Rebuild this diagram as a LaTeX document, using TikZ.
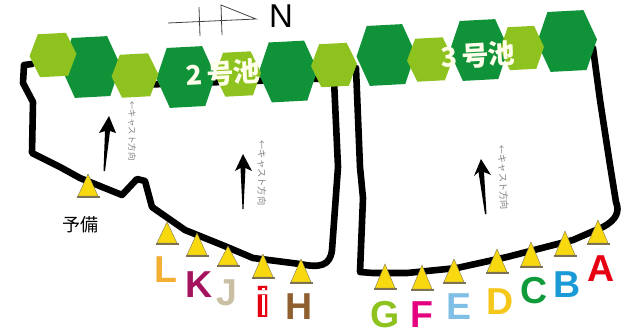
\documentclass[tikz,border=0pt]{standalone}
\usepackage{fontspec}
\setmainfont{Liberation Sans}
\newfontfamily\cjkfont{Noto Sans CJK JP}
\definecolor{hexdark}{HTML}{0F9238}
\definecolor{hexlight}{HTML}{8DC21F}
\definecolor{conefill}{HTML}{F8D90F}
\definecolor{conebase}{HTML}{7D7352}
\tikzset{
  x=1pt,y=-1pt,
  track/.style={draw=black,line width=6.6pt,line join=round,line cap=round},
  compass/.style={draw=black!75,line width=0.8pt},
  bigletter/.style={anchor=base,inner sep=0pt,font=\fontsize{37.5}{37.5}\selectfont\bfseries},
  pondname/.style={inner sep=0pt,text=white!92!yellow,font=\cjkfont\fontsize{27}{27}\selectfont\bfseries,rotate=3},
  casttext/.style={inner sep=0pt,text=black!50,font=\cjkfont\fontsize{8.5}{8.5}\selectfont},
  casttextwide/.style={casttext,font=\cjkfont\fontsize{9.3}{9.3}\selectfont},
}
\newcommand{\hexa}[5]{% cx cy w h colour
  \fill[#5,shift={(#1,#2)},rotate=3]
    (-#3/2,0) -- (-#3*0.3,-#4/2) -- (#3*0.3,-#4/2) -- (#3/2,0) -- (#3*0.3,#4/2) -- (-#3*0.3,#4/2) -- cycle;}
\newcommand{\cone}[3]{% cx apex base
  \fill[conefill,draw=conebase,line width=0.4pt] (#1,#2) -- (#1+10,#3-1) -- (#1-10,#3-1) -- cycle;
  \fill[conebase] (#1-11.5,#3-1.5) rectangle (#1+11.5,#3+1);}
\begin{document}
\begin{tikzpicture}
\useasboundingbox (0,0) rectangle (625,333);
% tracks
\draw[track] (32,64) -- (24,65) -- (23,83) -- (33,102) -- (32,153) -- (60,167) -- (80,178) -- (122,195)
  -- (137,179) -- (145,181) -- (152,207) -- (185,230) -- (227,247) -- (253,258) -- (300,264)
  .. controls (320,268) and (330,266) .. (332,250) -- (338,167) -- (334,80);
\draw[track] (135,85) -- (340,78);
\draw[track] (356,68) -- (360,167) -- (363,198) -- (360,272) -- (373,273) -- (407,273) -- (457,268)
  -- (507,257) -- (573,240) -- (603,227) .. controls (616,220) and (620,212) .. (616,202) -- (610,165) -- (600,100) -- (593,48);
% hexagons
\hexa{91}{67}{59}{60}{hexdark}
\hexa{186}{77}{59}{60}{hexdark}
\hexa{288}{71.5}{59}{60}{hexdark}
\hexa{386}{55}{59}{60}{hexdark}
\hexa{479}{50}{59}{60}{hexdark}
\hexa{567}{41}{60}{60}{hexdark}
\hexa{53}{55}{47}{43}{hexlight}
\hexa{135}{75.5}{47}{43}{hexlight}
\hexa{238}{74}{46}{44}{hexlight}
\hexa{334}{65}{46}{43}{hexlight}
\hexa{430}{59.5}{46}{43}{hexlight}
\hexa{522}{48}{44}{43}{hexlight}
% pond names
\node[pondname] (pondtwo) at (223,73) {2\,号池};
\node[pondname] (pondthree) at (478,55) {3\,号池};
% compass
\draw[compass] (168,23) -- (256,19) -- (221,5) -- (222,35);
\draw[compass] (199,7) -- (200,36);
\node[anchor=base,inner sep=0pt,font=\fontsize{33}{33}\selectfont] (north) at (281,27) {N};
% flow arrows
\fill[black] (109,116) -- (116,133) -- (110,131) -- (105,171) -- (103.5,171) -- (105,131) -- (99,133) -- cycle;
\fill[black] (243,154) -- (252,171) -- (245.5,168) -- (243.5,209) -- (242.5,209) -- (240.5,168) -- (235,171) -- cycle;
\fill[black] (481,159) -- (491,175) -- (484,172) -- (486.5,214) -- (485,214) -- (478.5,172) -- (474,176) -- cycle;
% cast direction notes
\node[casttext,rotate=-90] (castone) at (132,131) {←キャスト方向};
\node[casttextwide,rotate=-90] (casttwo) at (262,173) {←キャスト方向};
\node[casttextwide,rotate=-87] (castthree) at (503,177.5) {←キャスト方向};
% cones
\cone{88}{174}{197}
\cone{167}{222}{244}
\cone{197}{233}{256}
\cone{228}{246}{266}
\cone{263}{254}{278}
\cone{301}{259}{283}
\cone{385}{264}{289}
\cone{422}{265}{290}
\cone{454}{259}{283}
\cone{497}{249}{273}
\cone{531}{242}{267}
\cone{565}{231}{256}
\cone{598}{220}{244}
% labels
\node[inner sep=0pt,font=\cjkfont\fontsize{18}{18}\selectfont] (spare) at (80,225) {予備};
\node[bigletter,text={rgb,255:red,244;green,174;blue,50}] (L) at (166,282) {L};
\node[bigletter,text={rgb,255:red,165;green,18;blue,94}] (K) at (199,297) {K};
\node[bigletter,text={rgb,255:red,201;green,191;blue,165}] (J) at (227,305) {J};
\node[bigletter,text={rgb,255:red,230;green,0;blue,18},xscale=1.6,transform shape,font=\fontsize{43}{43}\selectfont\bfseries] (i) at (263.5,317) {i};
\fill[white] (262.3,287.5) rectangle (264.7,289.5);
\fill[white] (262.3,295) rectangle (264.7,315);
\node[bigletter,text={rgb,255:red,143;green,95;blue,48}] (H) at (299,319) {H};
\node[bigletter,text=hexlight] (G) at (385,327.5) {G};
\node[bigletter,text={rgb,255:red,228;green,0;blue,127}] (F) at (422,327.5) {F};
\node[bigletter,text={rgb,255:red,127;green,191;blue,230}] (E) at (459,319) {E};
\node[bigletter,text={rgb,255:red,245;green,199;blue,26}] (D) at (500,314) {D};
\node[bigletter,text={rgb,255:red,15;green,155;blue,58}] (C) at (534,303) {C};
\node[bigletter,text={rgb,255:red,26;green,154;blue,214}] (B) at (567,297) {B};
\node[bigletter,text={rgb,255:red,230;green,0;blue,18}] (A) at (601,281) {A};
\end{tikzpicture}
\end{document}
